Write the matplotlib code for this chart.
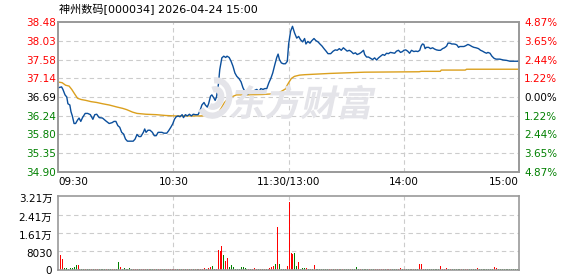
import matplotlib
matplotlib.use("Agg")
import matplotlib.pyplot as plt
from matplotlib.textpath import TextPath
from matplotlib.font_manager import FontProperties
from matplotlib.patches import PathPatch, Arc
from matplotlib.transforms import Affine2D, IdentityTransform, ScaledTranslation

plt.rcParams["font.family"] = ["DejaVu Sans", "Noto Sans CJK SC"]

title = "神州数码[000034] 2026-04-24 15:00"
pre_close = 36.69

# price axis (bottom -> top)
price_ticks = [34.90, 35.35, 35.80, 36.24, 36.69, 37.14, 37.58, 38.03, 38.48]
pct_labels = ["4.87%", "3.65%", "2.44%", "1.22%", "0.00%", "1.22%", "2.44%", "3.65%", "4.87%"]
time_ticks = [0, 60, 120, 180, 240]
time_labels = ["09:30", "10:30", "11:30/13:00", "14:00", "15:00"]
vol_ticks = [0, 8030, 16060, 24090, 32120]
vol_labels = ["0", "8030", "1.61万", "2.41万", "3.21万"]

# minute index (0 = 09:30, 120 = 11:30/13:00, 240 = 15:00) and price
price_min = [0, 1.7, 2.4, 3.5, 4.4, 5, 6, 6.6, 7.3, 8.2, 9, 10, 10.8, 11.7, 12.6, 14, 15.3, 16.7,
             18, 19, 20, 21.3, 23, 24.8, 26.5, 28, 29, 30, 31, 32, 33, 34, 35, 36, 39, 40, 41,
             42, 43, 44.3, 45, 45.7, 46.7, 47.8, 49, 50, 51, 52, 54, 55, 56.5, 57.5, 58.6, 59.6,
             60.5, 61.4, 62.4, 63.4, 64.5, 65.2, 66.2, 67.2, 68.3, 69.3, 70.3, 71.4, 72.8, 73.8,
             74.8, 75.9, 76.6, 77.6, 78.3, 79.3, 80, 81, 81.7, 82.4, 83.4, 84.1, 85.2, 86.2, 87.2,
             87.9, 89, 90, 91, 92, 93, 94.1, 95.2, 96.2, 97.2, 98.3, 99.3, 100.3, 101.4, 102.4,
             103.4, 104.5, 105.5, 106.6, 107.6, 108.6, 109.7, 110.7, 111.7, 112.8, 113.8, 114.5,
             115.2, 116.2, 117.2, 118.3, 119.3, 120, 121, 122, 123.1, 124.2, 125.2, 126.2, 127.3,
             128.3, 129, 130, 131.1, 132.1, 133.2, 134.2, 135.3, 136.3, 137.4, 138.4, 139.5,
             140.5, 141.9, 143.2, 144.3, 145.3, 146.4, 147.4, 148.5, 149.5, 150.5, 151.6, 152.6,
             153.7, 154.8, 155.7, 156.8, 157.8, 159, 159.6, 160.6, 161.6, 162.7, 163.7, 164.8,
             165.8, 166.8, 167.9, 169, 170, 171, 172, 173, 174.1, 175.2, 176.2, 177.2, 178.3,
             179.3, 180, 181, 182, 183, 184, 185.2, 186.3, 187.3, 188.3, 189, 189.7, 190.4, 191.1,
             191.8, 192.9, 193.9, 195, 196, 197, 198.1, 199.1, 200.2, 201.2, 202.3, 203, 204, 205,
             206.1, 207.1, 207.8, 208.5, 209.2, 210.3, 211.3, 212.3, 213.4, 214.4, 215.5, 216.5,
             217.6, 218.9, 220, 221, 222.1, 223.1, 223.8, 224.9, 225.9, 227, 228, 230, 231.8,
             233.6, 235.3, 240]
price = [36.91, 36.93, 36.87, 36.74, 36.69, 36.53, 36.50, 36.34, 36.24, 36.06, 36.06, 36.14, 36.19,
         36.11, 36.20, 36.30, 36.30, 36.27, 36.16, 36.27, 36.28, 36.20, 36.19, 36.12, 36.06, 36.08,
         36.11, 36.11, 36.01, 35.97, 35.85, 35.81, 35.69, 35.64, 35.64, 35.69, 35.80, 35.75, 35.75,
         35.85, 35.93, 35.85, 35.90, 35.90, 35.85, 35.77, 35.77, 35.85, 35.85, 35.83, 35.83, 35.89,
         35.97, 36.05, 36.16, 36.22, 36.24, 36.22, 36.27, 36.20, 36.27, 36.24, 36.28, 36.24, 36.28,
         36.27, 36.27, 36.36, 36.50, 36.56, 36.50, 36.45, 36.53, 36.71, 36.74, 36.67, 36.61, 36.69,
         36.99, 37.34, 37.62, 37.66, 37.63, 37.66, 37.63, 37.54, 37.42, 37.26, 37.18, 37.13, 37.05,
         36.91, 36.82, 36.75, 36.78, 36.82, 36.80, 36.85, 36.87, 36.82, 36.89, 36.87, 36.89, 36.89,
         37.03, 37.13, 37.26, 37.46, 37.63, 37.71, 37.58, 37.50, 37.48, 37.48, 37.54, 37.95, 38.25,
         38.37, 38.21, 38.09, 38.13, 38.05, 38.00, 38.08, 37.95, 38.01, 37.97, 38.03, 38.08, 38.03,
         38.00, 37.95, 37.90, 37.84, 37.78, 37.72, 37.72, 37.78, 37.81, 37.80, 37.84, 37.80, 37.86,
         37.82, 37.78, 37.80, 37.77, 37.72, 37.74, 37.70, 37.72, 37.75, 37.80, 37.70, 37.64, 37.64,
         37.61, 37.58, 37.62, 37.57, 37.62, 37.66, 37.70, 37.68, 37.73, 37.72, 37.75, 37.74, 37.73,
         37.78, 37.80, 37.75, 37.77, 37.80, 37.81, 37.78, 37.73, 37.80, 37.77, 37.78, 37.77, 37.80,
         37.90, 37.95, 37.94, 37.84, 37.87, 37.87, 37.84, 37.86, 37.83, 37.81, 37.80, 37.80, 37.84,
         37.86, 37.90, 37.97, 37.97, 37.95, 37.95, 37.94, 37.92, 37.87, 37.89, 37.89, 37.89, 37.91,
         37.94, 37.92, 37.89, 37.87, 37.86, 37.84, 37.80, 37.78, 37.75, 37.73, 37.75, 37.73, 37.66,
         37.61, 37.59, 37.59, 37.57, 37.56, 37.54, 37.54]

avg_min = [0.7, 2, 3.8, 5.6, 7, 8.4, 10, 11.9, 14.3, 17, 20, 23, 26.5, 30.7, 33.5, 35.6, 38.7, 41,
           45.7, 51, 56, 60.7, 73.8, 79, 82.4, 83.8, 85.2, 86.6, 88, 89.3, 90.7, 92.8, 98, 106.6,
           113, 115, 118.6, 119, 120, 121.4, 123, 125.7, 128.3, 132.7, 141.3, 159.6, 188, 189,
           199, 199.5, 212, 212.7, 240]
avg = [37.04, 37.03, 36.97, 36.95, 36.87, 36.77, 36.66, 36.63, 36.61, 36.58, 36.56, 36.53, 36.50,
       36.45, 36.42, 36.39, 36.33, 36.30, 36.28, 36.27, 36.25, 36.24, 36.24, 36.25, 36.30, 36.34,
       36.45, 36.56, 36.63, 36.69, 36.70, 36.74, 36.74, 36.75, 36.77, 36.79, 36.89, 36.95, 37.03,
       37.13, 37.18, 37.21, 37.22, 37.23, 37.25, 37.28, 37.29, 37.30, 37.30, 37.33, 37.33, 37.35,
       37.35]

# volume per minute (241 bars)
vol = [400, 6380, 4640, 650, 650, 350, 650, 650, 1160, 2030, 2030, 350, 350, 350, 350, 350, 350, 350, 350, 350,
       350, 350, 350, 350, 350, 350, 350, 350, 350, 350, 350, 3340, 1160, 350, 650, 350, 350, 650, 350, 350,
       350, 350, 350, 350, 350, 350, 350, 350, 350, 350, 350, 350, 350, 350, 350, 350, 350, 350, 350, 350,
       350, 350, 350, 350, 350, 350, 350, 350, 350, 350, 350, 350, 350, 350, 350, 350, 725, 350, 725, 1160,
       1600, 350, 350, 8555, 8120, 10300, 6380, 3770, 5075, 1160, 2030, 1160, 350, 350, 350, 1160, 1160, 725, 350, 350,
       350, 350, 725, 350, 350, 350, 350, 350, 350, 350, 725, 1160, 1600, 2465, 18560, 2465, 350, 350, 350, 1740,
       29435, 7250, 6800, 7250, 1600, 3340, 350, 725, 725, 725, 350, 350, 350, 2030, 350, 350, 350, 350, 350, 350,
       350, 350, 350, 350, 350, 350, 350, 350, 350, 350, 350, 350, 350, 350, 350, 1160, 350, 350, 350, 350,
       350, 350, 350, 350, 350, 350, 350, 350, 350, 350, 350, 350, 350, 350, 350, 350, 350, 350, 725, 350,
       350, 350, 350, 350, 350, 350, 350, 350, 2465, 2465, 350, 350, 350, 350, 350, 350, 350, 350, 350, 1600,
       350, 350, 725, 350, 350, 350, 350, 350, 350, 350, 350, 350, 350, 350, 350, 350, 350, 350, 725, 350,
       350, 350, 350, 350, 350, 350, 350, 1160, 725, 350, 350, 350, 350, 350, 350, 350, 350, 350, 350, 350,
       1160]
vol_dir = ("rrrggggggg" "rrggrggrgr" "rggggrggrr" "ggrggggggr"
           "rrgrrrgrgg" "rgrrggrrrr" "rrgrgrgrgr" "grgrrrrgrr"
           "ggrrrrgrrg" "gggggggggr" "grrrgrgrgr" "rrrgrggggr"
           "rrrggrgggr" "grgrgggggg" "grrgrgrgrg" "ggrggggrgg"
           "ggrggrrrrr" "grrrgggrrg" "rggrgrggrr" "rggggggggr"
           "rrrgrggggg" "rgrrggggrg" "gggggggrrg" "gggggggggg"
           "r")

RED = "#ff0000"
GREEN = "#008000"
BLUE = "#0b4f9c"
GOLD = "#dba01e"
GRID = "#cccccc"
EDGE = "#999999"

fig = plt.figure(figsize=(5.78, 2.76), dpi=100)
ax = fig.add_axes([0.1009, 0.3757, 0.797, 0.5457])
vax = fig.add_axes([0.1009, 0.0207, 0.797, 0.268])

# watermark
fp = FontProperties(family="Noto Sans CJK SC", weight="bold")
tp = TextPath((0, 0), "东方财富", size=36, prop=fp)
wm = PathPatch(tp, transform=Affine2D().skew_deg(12, 0).translate(228, 160),
               color="#e4e4e9", lw=0, zorder=0)
fig.patches.append(wm)
for w, h, t1, t2 in [(30, 36, -120, 110), (14, 18, -100, 120)]:
    fig.patches.append(Arc((214, 178), w, h, angle=-20, theta1=t1, theta2=t2,
                           lw=4.5, color="#e4e4e9", transform=IdentityTransform(), zorder=0))

ax.set_facecolor("none")
ax.plot(price_min, price, color=BLUE, lw=1.0, zorder=3)
ax.plot(avg_min, avg, color=GOLD, lw=1.0, zorder=2)
ax.set_xlim(0, 240)
ax.set_ylim(price_ticks[0], price_ticks[-1])

for t in price_ticks[1:-1]:
    ax.axhline(t, color=GRID, lw=0.8, ls=(0, (4, 3)), zorder=1)
for t in time_ticks[1:-1]:
    ax.axvline(t, color=GRID, lw=0.8, ls=(0, (4, 3)), zorder=1)
    vax.axvline(t, color=GRID, lw=0.8, ls=(0, (4, 3)), zorder=1)
for t in vol_ticks[1:-1]:
    vax.axhline(t, color=GRID, lw=0.8, ls=(0, (4, 3)), zorder=1)

def tick_color(p):
    if p > pre_close + 0.001:
        return RED
    if p < pre_close - 0.001:
        return GREEN
    return "black"

ax.set_yticks(price_ticks)
ax.set_yticklabels([f"{p:.2f}" for p in price_ticks], fontsize=7.5)
for lab, p in zip(ax.get_yticklabels(), price_ticks):
    lab.set_color(tick_color(p))
ax.tick_params(axis="y", length=0, pad=1.5)

ax.set_xticks(time_ticks)
ax.set_xticklabels(time_labels, fontsize=7.5)
ax.tick_params(axis="x", length=0, pad=3.5)
xl = ax.get_xticklabels()
xl[0].set_ha("left")
xl[-1].set_ha("right")

ax2 = ax.twinx()
ax2.set_ylim(ax.get_ylim())
ax2.set_yticks(price_ticks)
ax2.set_yticklabels(pct_labels, fontsize=7.5)
for lab, p in zip(ax2.get_yticklabels(), price_ticks):
    lab.set_color(tick_color(p))
ax2.tick_params(axis="y", length=0, pad=3.6)

# volume panel: zero level sits just above the frame bottom
vax.set_xlim(0, 240)
vax.set_ylim(-300, vol_ticks[-1])
floor = vax.get_ylim()[0]
vcolors = [RED if d == "r" else GREEN for d in vol_dir]
vax.vlines(range(len(vol)), floor, vol, colors=vcolors, lw=0.72, antialiased=False, zorder=2)
vax.set_xticks([])
vax.set_yticks(vol_ticks)
vax.set_yticklabels(vol_labels, fontsize=7.5)
vax.tick_params(axis="y", length=0, pad=4.3)
shift = ScaledTranslation(0, -1.5 / 72, fig.dpi_scale_trans)
for lab in vax.get_yticklabels()[1:]:
    lab.set_transform(lab.get_transform() + shift)

for a in (ax, ax2, vax):
    for s in a.spines.values():
        s.set_color(EDGE)
        s.set_linewidth(1.2)

fig.text(59 / 578, 1 - 8.5 / 276, title, fontsize=8, ha="left", va="center")

fig.savefig("out.png", dpi=100)
